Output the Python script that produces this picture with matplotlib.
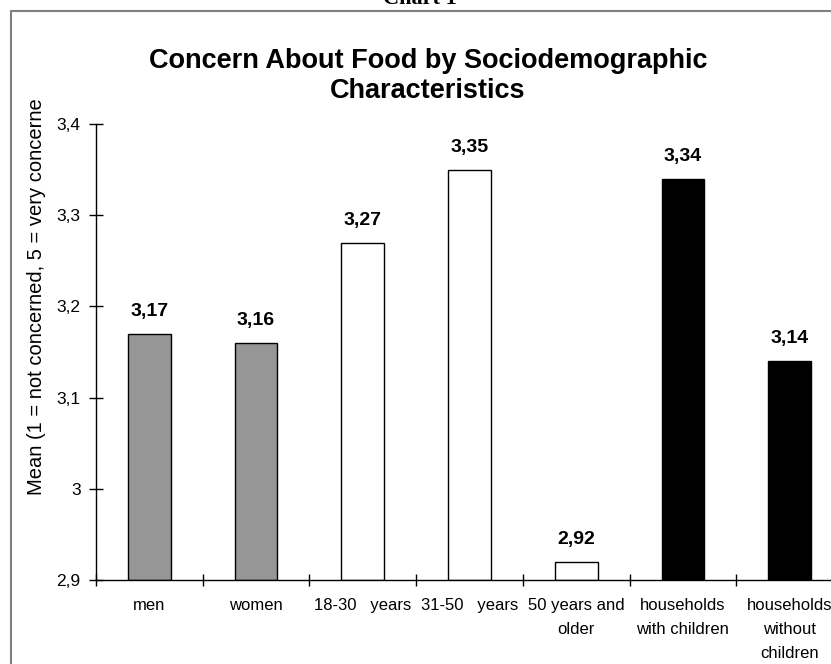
import matplotlib.pyplot as plt
from matplotlib.patches import Rectangle
from matplotlib.transforms import Bbox
from matplotlib.ticker import FixedLocator, FuncFormatter

plt.rcParams['font.family'] = ['Liberation Sans', 'DejaVu Sans']

categories = ["men", "women", "18-30   years", "31-50   years",
              "50 years and\nolder", "households\nwith children",
              "households\nwithout\nchildren"]
means = [3.17, 3.16, 3.27, 3.35, 2.92, 3.34, 3.14]
bar_colors = ["#969696", "#969696", "white", "white", "white", "black", "black"]
y_ticks = [2.9, 3.0, 3.1, 3.2, 3.3, 3.4]

W, H = 831, 664
fig = plt.figure(figsize=(W / 100, H / 100), dpi=100)

# plot area in pixel terms (x0, y_top, x1, y_bottom), runs past the right edge
x0, yt, x1, yb = 96, 124, 843, 580
ax = fig.add_axes([x0 / W, 1 - yb / H, (x1 - x0) / W, (yb - yt) / H])

pos = [i + 0.5 for i in range(len(means))]
ax.bar(pos, [m - 2.9 for m in means], bottom=2.9, width=0.4,
       color=bar_colors, edgecolor="black", linewidth=1.0, zorder=2)

for x, m in zip(pos, means):
    ax.text(x, m + 0.015, f"{m:.2f}".replace(".", ","), ha="center", va="bottom",
            fontsize=14, fontweight="bold")

ax.set_xlim(0, 7)
ax.set_ylim(2.9, 3.4)
ax.set_yticks(y_ticks)
ax.yaxis.set_major_formatter(FuncFormatter(
    lambda v, _: f"{v:.1f}".replace(".", ",").replace(",0", "")))
ax.set_xticks(pos)
ax.set_xticklabels(categories, fontsize=12, linespacing=1.75)
ax.xaxis.set_minor_locator(FixedLocator(range(8)))
ax.tick_params(axis="x", which="major", length=0, pad=13)
ax.tick_params(axis="x", which="minor", direction="inout", length=8, width=1)
ax.tick_params(axis="y", direction="inout", length=10, width=1, labelsize=12.5, pad=6)

for side in ["top", "right"]:
    ax.spines[side].set_visible(False)
for side in ["left", "bottom"]:
    ax.spines[side].set_linewidth(1.0)

# axis title, cut off at the top like the original chart area
ylab = fig.text(37 / W, 1 - 495 / H, "Mean (1 = not concerned, 5 = very concerned)",
                rotation=90, ha="center", va="bottom", fontsize=14.5)
ylab.set_clip_box(Bbox.from_extents(0, 0, W, H - 100))
ylab.set_clip_on(True)

fig.text(428 / W, 1 - 76 / H, "Concern About Food by Sociodemographic\nCharacteristics",
         ha="center", va="center", fontsize=19.5, fontweight="bold", linespacing=1.25)

fig.text(420 / W, 1 - 4 / H, "Chart 1", ha="center", va="baseline",
         fontsize=16, fontweight="bold", family="Liberation Serif")

# chart area border
fig.patches.append(Rectangle((11 / W, -0.1), 1.2, 1.1 - 11 / H, transform=fig.transFigure,
                             fill=False, edgecolor="#808080", linewidth=1.5))

fig.savefig("out.png", dpi=100)
